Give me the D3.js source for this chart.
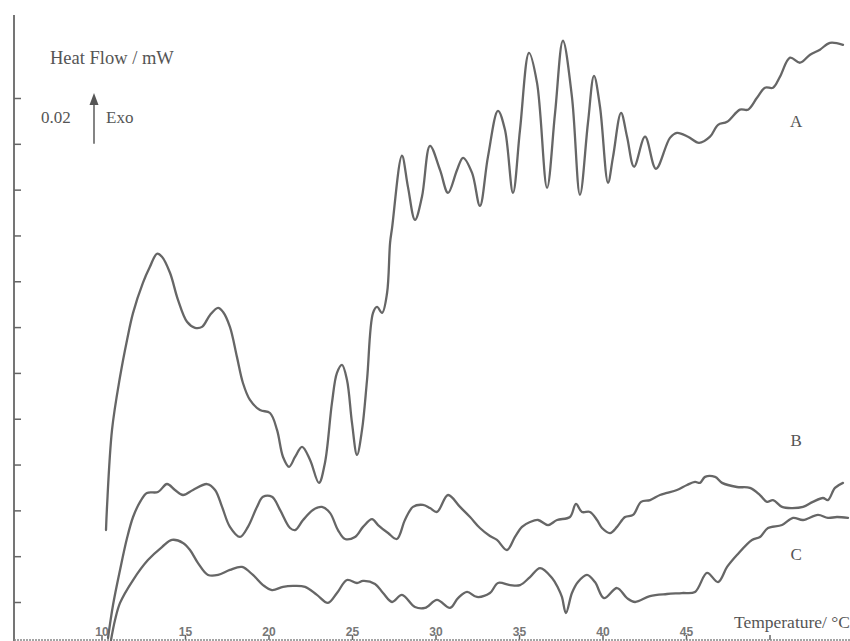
<!DOCTYPE html>
<html>
<head>
<meta charset="utf-8">
<script src="https://cdn.jsdelivr.net/npm/d3@7/dist/d3.min.js"></script>
<style>
  html, body { margin: 0; padding: 0; background: #fff; }
  svg { display: block; }
</style>
</head>
<body>
<svg id="chart" width="850" height="641"></svg>
<script>
// DSC heat-flow traces, temperature in °C, heat flow in mW (traces offset vertically)
const tempA = [10.27,10.33,10.63,11.11,11.53,11.89,12.48,12.90,13.32,13.62,14.10,14.58,15.12,15.60,16.02,16.50,16.98,17.28,17.69,18.11,18.47,18.89,19.49,20.09,20.51,20.87,21.23,21.59,22.01,22.49,23.02,23.38,23.80,24.10,24.40,24.70,25.00,25.30,25.60,25.90,26.26,26.50,26.80,27.10,27.28,27.40,27.99,28.35,28.77,29.19,29.67,30.27,30.75,31.29,31.65,32.19,32.66,33.14,33.74,34.16,34.64,35.06,35.60,36.08,36.68,37.16,37.63,38.17,38.65,39.13,39.49,39.85,40.33,40.63,41.11,41.47,41.89,42.55,43.20,44.04,44.46,45.12,45.78,46.44,46.92,47.46,48.23,48.71,49.25,49.73,50.21,50.63,51.23,51.83,52.43,53.02,53.62,54.40];
const flowA = [0.0314,0.0415,0.0751,0.0983,0.1144,0.1262,0.1393,0.1463,0.1520,0.1507,0.1437,0.1319,0.1223,0.1197,0.1201,0.1253,0.1284,0.1266,0.1201,0.1070,0.0956,0.0882,0.0838,0.0825,0.0751,0.0633,0.0590,0.0633,0.0677,0.0620,0.0520,0.0607,0.0869,0.1000,0.1035,0.0969,0.0782,0.0642,0.0751,0.0969,0.1262,0.1288,0.1262,0.1349,0.1568,0.1633,0.1948,0.1812,0.1668,0.1769,0.1991,0.1886,0.1786,0.1886,0.1939,0.1873,0.1729,0.1943,0.2144,0.2061,0.1786,0.2061,0.2397,0.2266,0.1808,0.2135,0.2450,0.2205,0.1777,0.2092,0.2297,0.2162,0.1830,0.1943,0.2135,0.2031,0.1900,0.2031,0.1891,0.2026,0.2048,0.2031,0.2004,0.2031,0.2083,0.2096,0.2149,0.2149,0.2201,0.2245,0.2245,0.2293,0.2376,0.2354,0.2389,0.2411,0.2441,0.2432];

const tempB = [10.39,10.69,11.11,11.53,11.89,12.31,12.72,13.38,13.92,14.40,14.88,15.48,16.32,16.80,17.22,17.69,18.29,18.77,19.31,19.67,20.21,20.69,21.29,21.59,22.07,22.66,23.20,23.68,24.16,24.58,25.18,25.66,26.20,26.56,27.16,27.69,28.17,28.65,29.25,29.67,30.09,30.75,31.47,32.07,32.66,33.26,33.68,34.28,34.76,35.18,35.66,36.14,36.74,37.28,38.05,38.41,38.77,39.25,39.67,39.97,40.45,40.87,41.35,41.83,42.31,42.85,43.44,43.86,44.46,45.06,45.54,45.84,46.14,46.74,47.16,48.05,48.83,49.43,49.85,50.21,50.75,51.35,52.01,52.60,53.20,53.50,53.92,54.40];
const flowB = [-0.0157,-0.0013,0.0140,0.0279,0.0371,0.0437,0.0476,0.0480,0.0515,0.0489,0.0467,0.0489,0.0515,0.0489,0.0415,0.0328,0.0284,0.0328,0.0415,0.0459,0.0459,0.0402,0.0323,0.0314,0.0358,0.0402,0.0415,0.0389,0.0314,0.0275,0.0284,0.0328,0.0362,0.0336,0.0301,0.0275,0.0358,0.0415,0.0424,0.0410,0.0393,0.0467,0.0415,0.0371,0.0323,0.0288,0.0271,0.0227,0.0284,0.0328,0.0349,0.0358,0.0336,0.0358,0.0371,0.0428,0.0393,0.0393,0.0358,0.0323,0.0301,0.0328,0.0371,0.0380,0.0437,0.0445,0.0467,0.0476,0.0489,0.0511,0.0524,0.0520,0.0546,0.0546,0.0520,0.0502,0.0498,0.0467,0.0437,0.0445,0.0415,0.0410,0.0415,0.0437,0.0454,0.0445,0.0498,0.0520];

const tempC = [10.57,10.81,11.11,11.89,12.78,13.62,14.22,14.88,15.30,15.78,16.38,16.98,17.69,18.41,19.07,19.67,20.21,20.87,21.47,22.19,22.90,23.56,24.10,24.70,25.30,25.66,26.38,26.86,27.40,27.99,28.77,29.37,30.09,30.87,31.35,31.89,32.48,33.26,33.74,34.46,35.06,35.66,36.26,36.98,37.34,37.57,37.81,38.17,38.53,39.07,39.55,40.09,40.87,41.47,41.95,42.84,43.86,44.76,45.54,46.26,46.92,47.46,48.05,48.95,49.43,49.91,50.75,51.41,52.01,52.90,53.50,54.04,54.70];
const flowC = [-0.0166,-0.0079,-0.0004,0.0096,0.0183,0.0240,0.0271,0.0258,0.0227,0.0170,0.0118,0.0118,0.0140,0.0153,0.0118,0.0074,0.0052,0.0066,0.0070,0.0066,0.0031,-0.0004,0.0039,0.0096,0.0083,0.0092,0.0079,0.0039,0.0000,0.0031,-0.0022,-0.0026,0.0009,-0.0026,0.0017,0.0044,0.0022,0.0039,0.0083,0.0074,0.0074,0.0109,0.0148,0.0105,0.0061,0.0022,-0.0048,0.0039,0.0087,0.0118,0.0087,0.0017,0.0061,0.0017,0.0000,0.0026,0.0035,0.0039,0.0044,0.0127,0.0087,0.0153,0.0205,0.0271,0.0284,0.0323,0.0336,0.0367,0.0358,0.0380,0.0367,0.0371,0.0367];

const seriesNames = ["A", "B", "C"];
const xTicks = [10, 15, 20, 25, 30, 35, 40, 45, 50];
const yTicks = [0, 0.02, 0.04, 0.06, 0.08, 0.10, 0.12, 0.14, 0.16, 0.18, 0.20, 0.22];
const scaleBar = { from: 0.20, to: 0.22, label: "0.02" };

const svg = d3.select("#chart");
const ink = "#666";
const textInk = "#555";
const serif = "'Liberation Serif', 'Times New Roman', serif";

const x = d3.scaleLinear().domain([10, 55]).range([101.5, 853]);
const y = d3.scaleLinear().domain([0, 0.22]).range([602, 98]);

// left axis: long spine with short inward ticks, no labels
const axisX = 14;
svg.append("line")
  .attr("x1", axisX).attr("x2", axisX)
  .attr("y1", 15).attr("y2", 641)
  .attr("stroke", ink).attr("stroke-width", 1.8);
const yAxis = svg.append("g")
  .attr("transform", `translate(${axisX},0)`)
  .call(d3.axisRight(y).tickValues(yTicks).tickSize(7).tickFormat(""));
yAxis.select(".domain").remove();
yAxis.selectAll(".tick line").attr("stroke", ink).attr("stroke-width", 1.5);

// bottom axis along the lower edge
const baseY = 640;
const xAxis = svg.append("g")
  .attr("transform", `translate(0,${baseY})`)
  .call(d3.axisTop(x).tickValues(xTicks).tickSize(5).tickPadding(-1)
    .tickFormat(d => d < 50 ? d : ""));
xAxis.select(".domain").remove();
svg.append("line")
  .attr("x1", 14).attr("x2", 850)
  .attr("y1", baseY).attr("y2", baseY)
  .attr("stroke", "#888").attr("stroke-width", 1.5)
  .attr("stroke-dasharray", "2,1");
xAxis.selectAll(".tick line").attr("stroke", ink).attr("stroke-width", 1.5);
xAxis.selectAll(".tick text")
  .attr("fill", "#777")
  .attr("font-family", "'Liberation Sans', Arial, sans-serif")
  .attr("font-weight", "bold")
  .attr("font-size", 12);

// traces
const smooth = d3.curveCatmullRom.alpha(0.5);
const series = [
  { name: seriesNames[0], t: tempA, v: flowA },
  { name: seriesNames[1], t: tempB, v: flowB },
  { name: seriesNames[2], t: tempC, v: flowC }
];
const line = d3.line().x(d => x(d[0])).y(d => y(d[1])).curve(smooth);
series.forEach(s => {
  const pts = s.t.map((t, i) => [t, s.v[i]]);
  svg.append("path")
    .datum(pts)
    .attr("fill", "none")
    .attr("stroke", ink)
    .attr("stroke-width", 2.3)
    .attr("stroke-linejoin", "round")
    .attr("stroke-linecap", "round")
    .attr("d", line);
});

// trace labels
const labelPos = [
  { name: seriesNames[0], t: 51.6, v: 0.2075 },
  { name: seriesNames[1], t: 51.6, v: 0.0682 },
  { name: seriesNames[2], t: 51.6, v: 0.0183 }
];
svg.selectAll(".trace-label")
  .data(labelPos)
  .join("text")
  .attr("class", "trace-label")
  .attr("x", d => x(d.t))
  .attr("y", d => y(d.v))
  .attr("text-anchor", "middle")
  .attr("font-family", serif)
  .attr("font-size", 17)
  .attr("fill", textInk)
  .text(d => d.name);

// axis titles
svg.append("text")
  .attr("x", 50).attr("y", 64)
  .attr("font-family", serif).attr("font-size", 18.5).attr("fill", textInk)
  .text("Heat Flow / mW");
svg.append("text")
  .attr("x", 850).attr("y", 628)
  .attr("text-anchor", "end")
  .attr("font-family", serif).attr("font-size", 17.5).attr("fill", textInk)
  .text("Temperature/ °C");

// exotherm direction arrow, its length equals the scale bar value
const arrowX = 94;
svg.append("line")
  .attr("x1", arrowX).attr("x2", arrowX)
  .attr("y1", y(scaleBar.from)).attr("y2", y(scaleBar.to) + 4)
  .attr("stroke", ink).attr("stroke-width", 1.6);
svg.append("path")
  .attr("d", `M${arrowX},${y(scaleBar.to) - 5} L${arrowX - 4.5},${y(scaleBar.to) + 7} L${arrowX + 4.5},${y(scaleBar.to) + 7} Z`)
  .attr("fill", "#555");
svg.append("text")
  .attr("x", 41).attr("y", 123)
  .attr("font-family", serif).attr("font-size", 17).attr("fill", textInk)
  .text(scaleBar.label);
svg.append("text")
  .attr("x", 106).attr("y", 123)
  .attr("font-family", serif).attr("font-size", 17).attr("fill", textInk)
  .text("Exo");
</script>
</body>
</html>
